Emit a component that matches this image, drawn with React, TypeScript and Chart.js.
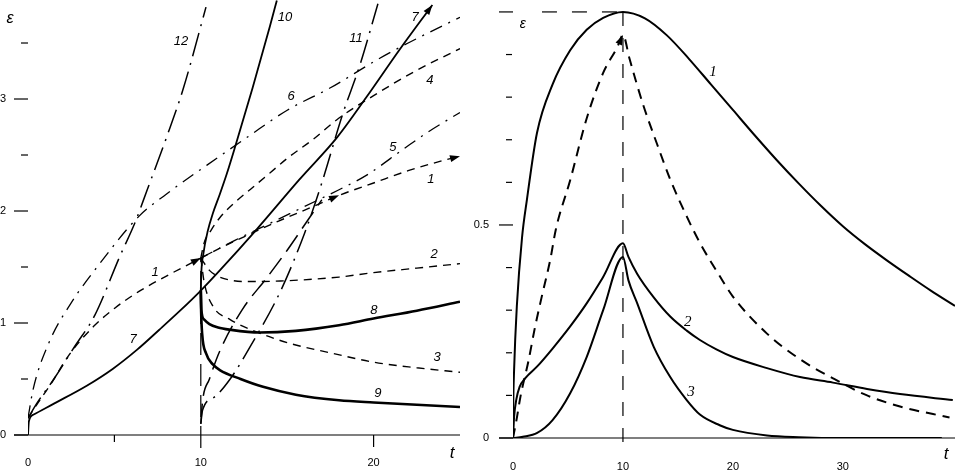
import React, { useEffect, useRef } from 'react';
import { Chart, registerables } from 'chart.js';
Chart.register(...registerables);

type P = [number, number];

// ================= LEFT PANEL DATA =================
const L_T_MIN = 0;
const L_T_MAX = 25;
const L_E_MIN = 0;
const L_E_MAX = 3.884;
const L_X_TICK_LABELS = [0, 10, 20];
const L_X_TICK_MARKS = [5, 20];
const L_Y_MAJOR = [0, 1, 2, 3];
const L_Y_MINOR = [0.5, 1.5, 2.5, 3.5];

const L_C1A: P[] = [[0, 0.15], [0.5, 0.27], [1.3, 0.45], [2.4, 0.72], [3.8, 0.97], [5, 1.13], [6.4, 1.28], [7.9, 1.41], [9, 1.5], [10, 1.58]];
const L_C1B: P[] = [[10, 1.58], [11, 1.66], [12.5, 1.77], [14.5, 1.91], [16.5, 2.04], [18, 2.14], [20, 2.25], [22, 2.36], [24, 2.45], [25, 2.49]];
const L_C2: P[] = [[10, 1.58], [10.5, 1.47], [11.1, 1.41], [12.7, 1.37], [14.6, 1.375], [18, 1.41], [20, 1.45], [22.5, 1.49], [25, 1.53]];
const L_C3: P[] = [[10, 1.58], [10.2, 1.36], [10.7, 1.15], [11.7, 1.03], [13.4, 0.91], [15.1, 0.82], [17.6, 0.73], [20, 0.65], [22.5, 0.6], [25, 0.56]];
const L_C4: P[] = [[10, 1.58], [10.2, 1.72], [10.6, 1.83], [11.1, 1.94], [12, 2.08], [13, 2.21], [14, 2.34], [15, 2.47], [16.5, 2.64], [18, 2.83], [20, 3.03], [22.3, 3.24], [25, 3.45]];
const L_C5: P[] = [[10, 1.58], [12, 1.74], [14, 1.89], [16, 2.04], [18, 2.19], [19.6, 2.32], [21.7, 2.55], [23.1, 2.7], [25, 2.88]];
const L_C6: P[] = [[0, 0.15], [0.3, 0.41], [1.2, 0.82], [2.5, 1.18], [4, 1.5], [6.4, 1.95], [8, 2.15], [11.2, 2.5], [12.7, 2.66], [15, 2.9], [17.5, 3.1], [20.2, 3.35], [22, 3.5], [25, 3.73]];
const L_C7: P[] = [[0, 0], [0.05, 0.12], [0.3, 0.18], [1.5, 0.28], [3.4, 0.44], [4.9, 0.59], [6.3, 0.76], [7.6, 0.94], [8.8, 1.11], [10, 1.29], [11.1, 1.47], [13.2, 1.83], [15.7, 2.28], [17.9, 2.66], [19.6, 3.02], [21.5, 3.44], [23.4, 3.84]];
const L_C8: P[] = [[10, 1.29], [10.03, 1.12], [10.2, 1.03], [10.5, 0.99], [11, 0.96], [11.7, 0.94], [13.4, 0.915], [15.5, 0.93], [18, 0.98], [20, 1.04], [22.5, 1.11], [25, 1.19]];
const L_C9: P[] = [[10, 1.29], [10.02, 1.1], [10.08, 0.9], [10.3, 0.73], [10.7, 0.63], [11.1, 0.58], [12.3, 0.5], [13.6, 0.43], [15.5, 0.36], [18, 0.31], [20, 0.29], [22.5, 0.27], [25, 0.25]];
const L_C10: P[] = [[10, 1.29], [10.03, 1.45], [10.15, 1.62], [10.4, 1.82], [10.7, 1.98], [11.1, 2.15], [11.5, 2.33], [12, 2.58], [13, 3.1], [14, 3.65], [14.4, 3.88]];
const L_C11: P[] = [[10, 0.1], [10.1, 0.22], [10.8, 0.34], [11.7, 0.5], [12.9, 0.8], [14.6, 1.28], [16, 1.8], [17, 2.25], [18.2, 2.86], [19.2, 3.3], [20.25, 3.85]];
const L_C12: P[] = [[0, 0.15], [0.5, 0.28], [1.5, 0.5], [2.7, 0.79], [3.87, 1.07], [5.3, 1.59], [6.2, 1.9], [6.9, 2.19], [8, 2.65], [9, 3.1], [10.3, 3.82]];
const L_CQ: P[] = [[10, 0.1], [10.1, 0.3], [10.5, 0.5], [11.1, 0.75], [12.4, 1.12], [13.8, 1.4], [15, 1.65], [16.2, 1.92], [17, 2.1]];
const L_C1B_MID_ARROW: P[] = [[17.4, 2.1], [18, 2.14]];

const L_LABELS: [string, number, number][] = [
  ['12', 8.85, 3.51], ['10', 14.87, 3.73], ['11', 18.98, 3.54], ['7', 22.4, 3.73],
  ['6', 15.22, 3.02], ['4', 23.26, 3.17], ['5', 21.12, 2.57], ['1', 23.32, 2.28],
  ['1', 7.35, 1.455], ['2', 23.5, 1.61], ['8', 20.02, 1.116], ['3', 23.67, 0.69],
  ['9', 20.25, 0.375], ['7', 6.08, 0.85],
];

// ================= RIGHT PANEL DATA =================
const R_T_MIN = 0;
const R_T_MAX = 40.2;
const R_E_MIN = 0;
const R_E_MAX = 1.028;
const R_X_TICK_LABELS = [0, 10, 20, 30];
const R_Y_MAJOR = [0, 0.5, 1];
const R_Y_MINOR = [0.1, 0.2, 0.3, 0.4, 0.6, 0.7, 0.8, 0.9];
const R_Y_TEXT: Record<string, string> = { '0': '0', '0.5': '0.5', '1': '1' };

const R_C1: P[] = [[0, 0], [0.02, 0.07], [0.1, 0.16], [0.35, 0.31], [0.82, 0.47], [1.27, 0.56], [2.18, 0.716], [3.6, 0.83], [5.2, 0.91], [6.7, 0.958], [8.2, 0.986], [10, 1.0], [12, 0.985], [14, 0.945], [16, 0.89], [18, 0.83], [20, 0.77], [22, 0.71], [24, 0.652], [26, 0.597], [28, 0.545], [30, 0.497], [32, 0.455], [34, 0.417], [36, 0.381], [38, 0.346], [40.2, 0.31]];
const R_CD: P[] = [[0, 0], [0.3, 0.04], [0.7, 0.1], [1.4, 0.18], [2, 0.26], [2.6, 0.33], [3.4, 0.42], [3.9, 0.49], [5.2, 0.605], [6.7, 0.75], [8.2, 0.857], [9.5, 0.918], [10, 0.946], [10.6, 0.89], [11.8, 0.785], [13.1, 0.69], [14.3, 0.607], [15.8, 0.52], [17, 0.458], [18.8, 0.38], [20, 0.332], [23.1, 0.245], [26.1, 0.185], [29.1, 0.14], [32.2, 0.1], [35.2, 0.074], [39.7, 0.048]];
const R_C2: P[] = [[0, 0], [0.1, 0.05], [0.3, 0.09], [0.6, 0.12], [1.1, 0.14], [2.2, 0.168], [3.6, 0.21], [5.2, 0.262], [6.7, 0.316], [8.2, 0.378], [10, 0.457], [10.5, 0.425], [11.3, 0.385], [12.8, 0.33], [14.3, 0.285], [15.8, 0.252], [17, 0.23], [18.5, 0.208], [20, 0.19], [23.1, 0.164], [26.1, 0.143], [29.1, 0.13], [32.2, 0.115], [35.2, 0.103], [40, 0.089]];
const R_C3: P[] = [[0, 0], [0.9, 0.003], [2.2, 0.012], [3.6, 0.042], [5.2, 0.105], [6.7, 0.19], [8.2, 0.3], [10, 0.425], [10.5, 0.37], [11.3, 0.316], [12.8, 0.214], [14.3, 0.143], [15.8, 0.089], [17, 0.055], [18.8, 0.03], [20, 0.019], [23.1, 0.006], [26, 0.002], [30, 0], [39, 0]];

const R_LABELS: [string, number, number][] = [
  ['1', 18.2, 0.859], ['2', 15.9, 0.272], ['3', 16.2, 0.108],
];

// ================= helpers =================
const toXY = (p: P[]) => p.map(([x, y]) => ({ x, y }));

function ds(data: P[], width: number, dash: number[] = []) {
  return {
    data: toXY(data),
    showLine: true,
    borderColor: '#000',
    backgroundColor: '#000',
    borderWidth: width,
    borderDash: dash,
    pointRadius: 0,
    pointHoverRadius: 0,
    fill: false,
    cubicInterpolationMode: 'monotone' as const,
    borderCapStyle: 'butt' as const,
  };
}

function line(ctx: CanvasRenderingContext2D, x1: number, y1: number, x2: number, y2: number) {
  ctx.beginPath();
  ctx.moveTo(x1, y1);
  ctx.lineTo(x2, y2);
  ctx.stroke();
}

function arrowHead(ctx: CanvasRenderingContext2D, x: number, y: number, dx: number, dy: number, len = 10, half = 3.5) {
  const L = Math.hypot(dx, dy) || 1;
  const ux = dx / L, uy = dy / L;
  const bx = x - ux * len, by = y - uy * len;
  ctx.beginPath();
  ctx.moveTo(x, y);
  ctx.lineTo(bx - uy * half, by + ux * half);
  ctx.lineTo(bx + uy * half, by - ux * half);
  ctx.closePath();
  ctx.fill();
}

function endArrow(chart: any, pts: P[]) {
  const { ctx, scales } = chart;
  const a = pts[pts.length - 2], b = pts[pts.length - 1];
  const x1 = scales.x.getPixelForValue(a[0]), y1 = scales.y.getPixelForValue(a[1]);
  const x2 = scales.x.getPixelForValue(b[0]), y2 = scales.y.getPixelForValue(b[1]);
  arrowHead(ctx, x2, y2, x2 - x1, y2 - y1);
}

function baseScales(xmin: number, xmax: number, ymin: number, ymax: number, xPad: number, yPad: number, xH: number, yW: number, xCb: (v: number) => string, yCb: (v: number) => string) {
  const font = { family: '"Liberation Sans", Arial, sans-serif', size: 11 };
  return {
    x: {
      type: 'linear' as const,
      min: xmin,
      max: xmax,
      position: 'bottom' as const,
      grid: { display: false, drawTicks: false },
      border: { display: false },
      ticks: { stepSize: 5, autoSkip: false, maxRotation: 0, padding: xPad, color: '#000', font, callback: (v: any) => xCb(Number(v)) },
      afterFit: (s: any) => { s.height = xH; s.paddingLeft = 0; s.paddingRight = 0; },
    },
    y: {
      type: 'linear' as const,
      min: ymin,
      max: ymax,
      grid: { display: false, drawTicks: false },
      border: { display: false },
      ticks: { stepSize: 0.5, autoSkip: false, padding: yPad, color: '#000', font, callback: (v: any) => yCb(Number(v)) },
      afterFit: (s: any) => { s.width = yW; s.paddingTop = 0; s.paddingBottom = 0; },
    },
  };
}

const near = (v: number, list: number[]) => list.some((u) => Math.abs(u - v) < 1e-6);

// ================= LEFT CHART =================
function leftConfig(): any {
  const leftDeco = {
    id: 'leftDeco',
    afterDraw(chart: any) {
      const { ctx, scales } = chart;
      const X = (v: number) => scales.x.getPixelForValue(v);
      const Y = (v: number) => scales.y.getPixelForValue(v);
      ctx.save();
      ctx.strokeStyle = '#000';
      ctx.fillStyle = '#000';
      ctx.lineWidth = 1.2;
      const y0 = Y(0);
      line(ctx, X(0) - 14, y0, X(L_T_MAX), y0);
      L_X_TICK_MARKS.forEach((t) => line(ctx, X(t), y0, X(t), y0 + (t === 20 ? 12 : 7)));
      L_Y_MAJOR.forEach((v) => line(ctx, X(0) - 14, Y(v), X(0), Y(v)));
      L_Y_MINOR.forEach((v) => line(ctx, X(0) - 7, Y(v), X(0), Y(v)));
      ctx.setLineDash([22, 9]);
      line(ctx, X(10), y0 + 13, X(10), Y(1.58));
      ctx.setLineDash([]);
      endArrow(chart, L_C1A);
      endArrow(chart, L_C1B);
      endArrow(chart, L_C7);
      endArrow(chart, L_C1B_MID_ARROW);
      ctx.font = 'italic 13px "Liberation Sans", Arial, sans-serif';
      ctx.textAlign = 'center';
      ctx.textBaseline = 'middle';
      L_LABELS.forEach(([s, t, e]) => ctx.fillText(s, X(t), Y(e)));
      ctx.font = 'italic 16px "Liberation Sans", Arial, sans-serif';
      ctx.fillText('ε', X(-1.04), Y(3.72));
      ctx.font = 'italic 17px "Liberation Sans", Arial, sans-serif';
      ctx.fillText('t', X(24.54), Y(-0.16));
      ctx.restore();
    },
  };
  return {
    type: 'scatter',
    data: {
      datasets: [
        ds(L_C1A, 1.4, [8, 6]),
        ds(L_C1B, 1.4, [8, 6]),
        ds(L_C2, 1.4, [8, 6]),
        ds(L_C3, 1.4, [8, 6]),
        ds(L_C4, 1.4, [8, 6]),
        ds(L_C5, 1.3, [13, 7, 2, 7]),
        ds(L_C6, 1.3, [13, 7, 2, 7]),
        ds(L_C7, 1.8),
        ds(L_C8, 2.6),
        ds(L_C9, 2.6),
        ds(L_C10, 1.8),
        ds(L_C11, 1.5, [24, 7, 2, 7]),
        ds(L_C12, 1.5, [24, 7, 2, 7]),
        ds(L_CQ, 1.5, [20, 8]),
      ],
    },
    options: {
      animation: false,
      responsive: false,
      maintainAspectRatio: false,
      events: [],
      layout: { padding: { left: 0, top: 0, right: 6, bottom: 0 } },
      plugins: { legend: { display: false }, tooltip: { enabled: false } },
      scales: baseScales(
        L_T_MIN, L_T_MAX, L_E_MIN, L_E_MAX, 21, 22, 37, 28,
        (v) => (near(v, L_X_TICK_LABELS) ? String(v) : ''),
        (v) => (near(v, L_Y_MAJOR) ? String(Math.round(v)) : ''),
      ),
    },
    plugins: [leftDeco],
  };
}

// ================= RIGHT CHART =================
function rightConfig(): any {
  const rightDeco = {
    id: 'rightDeco',
    afterDraw(chart: any) {
      const { ctx, scales } = chart;
      const X = (v: number) => scales.x.getPixelForValue(v);
      const Y = (v: number) => scales.y.getPixelForValue(v);
      ctx.save();
      ctx.strokeStyle = '#000';
      ctx.fillStyle = '#000';
      ctx.lineWidth = 1.2;
      const y0 = Y(0);
      line(ctx, X(0) - 14, y0, X(R_T_MAX), y0);
      R_Y_MAJOR.forEach((v) => line(ctx, X(0) - 14, Y(v), X(0), Y(v)));
      R_Y_MINOR.forEach((v) => line(ctx, X(0) - 7, Y(v), X(0) - 1, Y(v)));
      ctx.setLineDash([15, 15]);
      line(ctx, X(10) - 6, Y(1), X(0) + 29, Y(1));
      ctx.setLineDash([14, 12]);
      line(ctx, X(10), Y(1), X(10), y0 + 14);
      ctx.setLineDash([]);
      endArrow(chart, R_CD.slice(0, R_CD.findIndex((p) => p[0] === 10) + 1));
      ctx.font = 'italic 15px "Liberation Serif", "Times New Roman", serif';
      ctx.textAlign = 'center';
      ctx.textBaseline = 'middle';
      R_LABELS.forEach(([s, t, e]) => ctx.fillText(s, X(t), Y(e)));
      ctx.font = 'italic 14px "Liberation Sans", Arial, sans-serif';
      ctx.fillText('ε', X(0.9), Y(0.972));
      ctx.font = 'italic 17px "Liberation Sans", Arial, sans-serif';
      ctx.fillText('t', X(39.4), Y(-0.038));
      ctx.restore();
    },
  };
  return {
    type: 'scatter',
    data: {
      datasets: [
        ds(R_C1, 2),
        ds(R_CD, 2, [10, 7]),
        ds(R_C2, 2),
        ds(R_C3, 2),
      ],
    },
    options: {
      animation: false,
      responsive: false,
      maintainAspectRatio: false,
      events: [],
      layout: { padding: { left: 0, top: 0, right: 1, bottom: 0 } },
      plugins: { legend: { display: false }, tooltip: { enabled: false } },
      scales: baseScales(
        R_T_MIN, R_T_MAX, R_E_MIN, R_E_MAX, 22, 24, 34, 47,
        (v) => (near(v, R_X_TICK_LABELS) ? String(v) : ''),
        (v) => (near(v, R_Y_MAJOR) ? R_Y_TEXT[String(Math.round(v * 10) / 10)] : ''),
      ),
    },
    plugins: [rightDeco],
  };
}

function ChartCanvas({ cfg, left, width }: { cfg: () => any; left: number; width: number }) {
  const ref = useRef<HTMLCanvasElement | null>(null);
  useEffect(() => {
    if (!ref.current) return;
    const chart = new Chart(ref.current, cfg());
    return () => chart.destroy();
  }, [cfg]);
  return (
    <canvas
      ref={ref}
      width={width}
      height={472}
      style={{ position: 'absolute', left, top: 0, width, height: 472 }}
    />
  );
}

export default function App() {
  return (
    <div style={{ position: 'absolute', left: 0, top: 0, width: 956, height: 472, background: '#fff', overflow: 'hidden' }}>
      <ChartCanvas cfg={leftConfig} left={0} width={466} />
      <ChartCanvas cfg={rightConfig} left={466} width={490} />
    </div>
  );
}
